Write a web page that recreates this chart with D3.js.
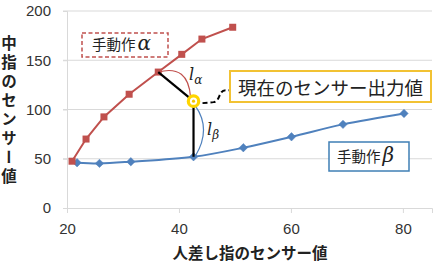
<!DOCTYPE html>
<html>
<head>
<meta charset="utf-8">
<script src="https://cdn.jsdelivr.net/npm/d3@7"></script>
<style>
  html, body { margin: 0; padding: 0; background: #fff; }
  svg { display: block; }
</style>
</head>
<body>
<svg id="chart" width="435" height="268"></svg>
<script>
// values
const xTicks = [20, 40, 60, 80];
const yTicks = [0, 50, 100, 150, 200];

const alphaX = [20.9, 23.4, 26.6, 31.1, 36.3, 40.5, 44.1, 49.6];
const alphaY = [47.5, 70, 92.5, 115.5, 138, 156, 171.5, 183.5];

const betaX = [21.8, 25.8, 31.4, 42.6, 51.5, 60.1, 69.3, 80.2];
const betaY = [46, 45.3, 47, 52, 61.2, 72.3, 84.9, 96];

const current = [42.6, 108.5];

const RED = "#c0504d";
const BLUE = "#4f81bd";
const GRID = "#d9d9d9";
const JP = "'Noto Sans CJK JP', 'Noto Sans', sans-serif";
const NUM = "'Liberation Sans', Arial, sans-serif";
const SERIF = "'DejaVu Serif', 'Liberation Serif', serif";

const svg = d3.select("#chart");

const x = d3.scaleLinear().domain([20, 85.2]).range([67, 432]);
const y = d3.scaleLinear().domain([0, 200]).range([208, 11]);

// gridlines
svg.append("g")
  .selectAll("line")
  .data(yTicks.filter(d => d > 0))
  .enter().append("line")
  .attr("x1", x(20) - 4).attr("x2", x.range()[1])
  .attr("y1", d => y(d)).attr("y2", d => y(d))
  .style("stroke", GRID).style("stroke-width", 1);

// axes
let yAxis = svg.append("g")
  .attr("transform", "translate(" + x(20) + ",0)")
  .call(d3.axisLeft(y).tickValues(yTicks).tickSize(4).tickPadding(12));
let xAxis = svg.append("g")
  .attr("transform", "translate(0," + y(0) + ")")
  .call(d3.axisBottom(x).tickValues(xTicks).tickSize(5).tickPadding(10));

[yAxis, xAxis].forEach(function (a) {
  a.select(".domain").style("stroke", GRID).style("stroke-width", 1);
  a.selectAll(".tick line").style("stroke", GRID);
  a.selectAll("text")
    .style("font-family", NUM)
    .style("font-size", "15px")
    .style("fill", "#333");
});

// axis titles
svg.append("text")
  .attr("x", 250).attr("y", 259)
  .attr("text-anchor", "middle")
  .style("font-family", JP).style("font-size", "15.5px").style("font-weight", "bold")
  .style("fill", "#222")
  .text("人差し指のセンサー値");

// vertical y title, one text element
svg.append("text")
  .attr("x", 9).attr("y", 35)
  .style("writing-mode", "vertical-rl")
  .style("text-orientation", "upright")
  .style("letter-spacing", "3.6px")
  .style("font-family", JP).style("font-size", "15.5px").style("font-weight", "bold")
  .style("fill", "#222")
  .text("中指のセンサー値");

// series
const alpha = alphaX.map((d, i) => [d, alphaY[i]]);
const beta = betaX.map((d, i) => [d, betaY[i]]);

svg.append("path")
  .datum(beta)
  .attr("d", d3.line().x(d => x(d[0])).y(d => y(d[1])).curve(d3.curveCatmullRom.alpha(0.5)))
  .style("fill", "none").style("stroke", BLUE).style("stroke-width", 2);

svg.append("path")
  .datum(alpha)
  .attr("d", d3.line().x(d => x(d[0])).y(d => y(d[1])))
  .style("fill", "none").style("stroke", RED).style("stroke-width", 2);

svg.append("g").selectAll("path")
  .data(beta).enter().append("path")
  .attr("d", d3.symbol(d3.symbolDiamond2, 45))
  .attr("transform", d => "translate(" + x(d[0]) + "," + y(d[1]) + ")")
  .style("fill", BLUE).style("stroke", BLUE).style("stroke-width", 0.5);

svg.append("g").selectAll("rect")
  .data(alpha).enter().append("rect")
  .attr("x", d => x(d[0]) - 3.5).attr("y", d => y(d[1]) - 3.5)
  .attr("width", 7).attr("height", 7)
  .style("fill", RED);

// distance annotations
const cx = x(current[0]), cy = y(current[1]);
const pa = [x(alphaX[4]), y(alphaY[4])];
const pb = [x(betaX[3]), y(betaY[3])];

svg.append("path")
  .attr("d", "M" + pa[0] + "," + pa[1] + " Q" + (pa[0] + 30) + "," + (pa[1] - 8) + " " + (cx - 3) + "," + (cy - 4))
  .style("fill", "none").style("stroke", RED).style("stroke-width", 1.2);
svg.append("path")
  .attr("d", "M" + (cx + 2) + "," + (cy + 5) + " Q" + (cx + 18) + "," + ((cy + pb[1]) / 2) + " " + (pb[0] + 2) + "," + (pb[1] - 1))
  .style("fill", "none").style("stroke", BLUE).style("stroke-width", 1.2);

svg.append("line")
  .attr("x1", pa[0]).attr("y1", pa[1]).attr("x2", cx).attr("y2", cy)
  .style("stroke", "#000").style("stroke-width", 2.2);
svg.append("line")
  .attr("x1", pb[0]).attr("y1", cy).attr("x2", pb[0]).attr("y2", pb[1])
  .style("stroke", "#000").style("stroke-width", 2.2);

// dashed connector to the label box
svg.append("path")
  .attr("d", "M" + (cx + 9) + "," + (cy + 2) + " L" + (cx + 20) + "," + (cy + 1) +
    " C" + (cx + 27) + "," + (cy) + " " + (cx + 25) + "," + (cy - 11) + " " + (cx + 32) + "," + (cy - 11) +
    " L" + (cx + 36) + "," + (cy - 11))
  .style("fill", "none").style("stroke", "#000").style("stroke-width", 2)
  .style("stroke-dasharray", "5,3");

// current point marker
svg.append("circle")
  .attr("cx", cx).attr("cy", cy).attr("r", 5.2)
  .style("fill", "#fff").style("stroke", "#ffd500").style("stroke-width", 3.2);
svg.append("circle")
  .attr("cx", cx).attr("cy", cy).attr("r", 1.6)
  .style("fill", "#f2c200");

// l labels
function lLabel(px, py, sub) {
  let t = svg.append("text")
    .attr("x", px).attr("y", py)
    .style("font-family", SERIF).style("font-style", "italic")
    .style("font-size", "16px").style("fill", "#222");
  t.append("tspan").text("l");
  t.append("tspan").attr("dy", 4).style("font-size", "12px").text(sub);
}
lLabel(189, 80, "α");
lLabel(207, 135, "β");

// boxes
svg.append("rect")
  .attr("x", 82).attr("y", 33).attr("width", 86).attr("height", 24)
  .style("fill", "#fff").style("stroke", RED).style("stroke-width", 1.5)
  .style("stroke-dasharray", "4,2.5");
let tA = svg.append("text")
  .attr("x", 92).attr("y", 49.5)
  .style("font-family", JP).style("font-size", "14.5px").style("fill", "#222");
tA.append("tspan").text("手動作");
tA.append("tspan").attr("dx", 2)
  .style("font-family", SERIF).style("font-style", "italic").style("font-size", "20px")
  .text("α");

svg.append("rect")
  .attr("x", 230).attr("y", 71).attr("width", 201).attr("height", 31)
  .style("fill", "#fff").style("stroke", "#f2c233").style("stroke-width", 2);
svg.append("text")
  .attr("x", 330.5).attr("y", 87)
  .attr("text-anchor", "middle").attr("dominant-baseline", "central")
  .style("font-family", JP).style("font-size", "18.5px").style("fill", "#222")
  .text("現在のセンサー出力値");

svg.append("rect")
  .attr("x", 329).attr("y", 142).attr("width", 80).attr("height", 29)
  .style("fill", "#fff").style("stroke", "#3f7fb5").style("stroke-width", 1.5);
let tB = svg.append("text")
  .attr("x", 337).attr("y", 162)
  .style("font-family", JP).style("font-size", "14.5px").style("fill", "#222");
tB.append("tspan").text("手動作");
tB.append("tspan").attr("dx", 2)
  .style("font-family", SERIF).style("font-style", "italic").style("font-size", "20px")
  .text("β");
</script>
</body>
</html>
